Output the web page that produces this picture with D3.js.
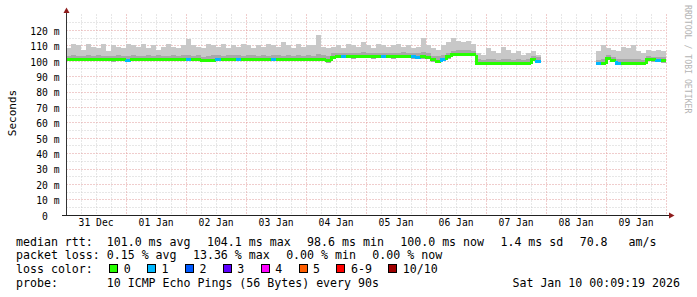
<!DOCTYPE html>
<html>
<head>
<meta charset="utf-8">
<script src="https://cdn.jsdelivr.net/npm/d3@7"></script>
<style>
	html, body { margin: 0; padding: 0; background: #fff; }
	svg { display: block; }
	text { font-family: 'DejaVu Sans Mono', monospace; white-space: pre; }
</style>
</head>
<body>
<script>
// 2 hour buckets, first one starts 31 Dec 00:00 UTC
const bucketStart = Date.UTC(2025, 11, 31, 0, 0, 0);
const bucketHours = 2;
const windowStart = Date.UTC(2025, 11, 31, 0, 9, 19);
const windowEnd = Date.UTC(2026, 0, 10, 0, 9, 19);

const median = [
	101.2, 101.0, 101.1, 101.0, 100.9, 101.0, 101.1, 101.0, 100.9, 100.8, 100.9, 101.0,
	100.6, 101.0, 101.1, 101.0, 101.0, 100.9, 101.0, 101.1, 101.0, 101.0, 100.9, 101.0,
	101.2, 101.0, 101.0, 100.6, 100.5, 100.7, 101.2, 101.3, 101.4, 101.2, 101.3, 101.2,
	101.1, 101.2, 101.3, 101.2, 101.0, 101.3, 101.2, 101.1, 101.0, 101.1, 101.2, 101.0,
	101.1, 101.0, 101.2, 101.0, 100.2, 102.6, 102.9, 103.0, 102.9, 102.8, 102.9, 103.0,
	102.9, 102.8, 102.9, 103.0, 102.9, 102.8, 102.9, 103.0, 102.9, 102.8, 102.7, 102.8,
	102.6, 100.8, 100.0, 101.2, 102.8, 104.2, 104.5, 104.6, 104.4, 104.3, 98.8, 98.7,
	98.8, 98.7, 98.6, 98.8, 98.7, 98.6, 98.7, 98.8, 98.7, 101.2, 100.0, null,
	null, null, null, null, null, null, null, null, null, null, 98.5, 98.8,
	101.8, 100.4, 98.7, 98.6, 98.7, 98.6, 98.7, 98.7, 101.2, 100.8, 100.5, 100.2
];

const smokeMax = [
	108, 111, 110, 107, 111, 109, 108, 111, 106, 110, 109, 108,
	111, 110, 109, 111, 108, 110, 107, 109, 111, 109, 108, 110,
	114, 110, 109, 108, 111, 110, 109, 111, 108, 110, 109, 111,
	110, 108, 110, 109, 111, 110, 109, 112, 110, 108, 111, 109,
	110, 110, 117, 109, 108, 109, 110, 108, 111, 110, 109, 112,
	110, 108, 111, 110, 109, 110, 111, 109, 110, 108, 109, 115,
	110, 108, 107, 110, 112, 115, 113, 112, 113, 111, 105, 104,
	108, 106, 105, 109, 107, 105, 106, 104, 105, 106, 104, null,
	null, null, null, null, null, null, null, null, null, null, 106, 110,
	108, 107, 106, 109, 108, 110, 106, 105, 107, 106, 107, 106
];

const smokeMid = [
	103.0, 103.4, 102.8, 103.2, 103.6, 102.9, 103.5, 102.8, 103.3, 103.0, 103.7, 103.1,
	102.8, 103.5, 103.0, 103.3, 103.8, 102.9, 103.4, 103.1, 102.8, 103.6, 103.0, 103.4,
	104.0, 103.1, 103.5, 102.7, 102.9, 103.4, 103.6, 103.2, 103.9, 103.5, 103.7, 103.3,
	103.4, 103.8, 103.2, 103.6, 103.3, 103.9, 103.5, 103.1, 103.7, 103.3, 103.6, 103.2,
	103.6, 103.3, 104.6, 103.4, 103.0, 104.7, 105.1, 104.9, 105.3, 104.8, 105.0, 105.4,
	104.9, 105.1, 105.3, 105.0, 104.8, 105.2, 105.0, 105.4, 104.9, 105.1, 104.7, 105.5,
	104.8, 103.3, 102.9, 103.5, 105.1, 106.5, 106.8, 107.0, 106.7, 106.5, 100.9, 100.6,
	101.2, 100.8, 100.6, 101.4, 100.9, 100.6, 101.0, 100.7, 100.8, 103.0, 102.1, null,
	null, null, null, null, null, null, null, null, null, null, 100.6, 101.2,
	103.8, 102.5, 100.8, 101.2, 100.9, 101.4, 100.8, 100.6, 102.9, 102.7, 102.5, 102.3
];

const smokeMin = [
	99.8, 99.6, 99.7, 99.6, 99.5, 99.6, 99.7, 99.6, 99.5, 99.4, 99.5, 99.6,
	99.0, 99.6, 99.7, 99.6, 99.6, 99.5, 99.6, 99.7, 99.6, 99.6, 99.5, 99.6,
	99.8, 99.6, 99.6, 99.2, 99.1, 99.3, 99.8, 99.9, 100.0, 99.8, 99.9, 99.8,
	99.7, 99.8, 99.9, 99.8, 99.6, 99.9, 99.8, 99.7, 99.6, 99.7, 99.8, 99.6,
	99.7, 99.6, 99.8, 99.6, 98.6, 101.0, 101.5, 101.6, 101.5, 101.4, 101.5, 101.6,
	101.5, 101.4, 101.5, 101.6, 101.5, 101.4, 101.5, 101.6, 101.5, 101.4, 101.3, 101.4,
	101.2, 99.4, 98.6, 99.8, 101.4, 102.8, 103.1, 103.2, 103.0, 102.9, 97.4, 97.3,
	97.4, 97.3, 97.2, 97.4, 97.3, 97.2, 97.3, 97.4, 97.3, 99.8, 98.6, null,
	null, null, null, null, null, null, null, null, null, null, 97.1, 97.4,
	100.4, 99.0, 97.3, 97.2, 97.3, 97.2, 97.3, 97.3, 99.8, 99.4, 99.1, 98.8
];

const lossCount = [
	0, 0, 0, 0, 0, 0, 0, 0, 0, 0, 0, 0,
	1, 0, 0, 0, 0, 0, 0, 0, 0, 0, 0, 0,
	1, 0, 0, 0, 0, 0, 1, 0, 0, 0, 1, 0,
	0, 0, 0, 0, 0, 1, 0, 0, 0, 0, 0, 0,
	0, 0, 0, 0, 0, 0, 0, 1, 0, 0, 0, 0,
	0, 0, 0, 1, 0, 0, 0, 0, 0, 1, 1, 0,
	0, 0, 0, 1, 0, 0, 0, 0, 0, 0, 0, 0,
	0, 0, 0, 0, 0, 0, 0, 0, 0, 0, 1, null,
	null, null, null, null, null, null, null, null, null, null, 1, 0,
	0, 0, 1, 0, 0, 0, 0, 0, 0, 0, 1, 0
];

const yTicks = [0, 10, 20, 30, 40, 50, 60, 70, 80, 90, 100, 110, 120];
const lossColors = ['#26ff00', '#00b8ff', '#0059ff', '#5e00ff', '#ff00fe', '#ff5e00', '#ff0000', '#a00000'];
const lossLabels = ['0', '1', '2', '3', '4', '5', '6-9', '10/10'];
const legendRtt = ['median rtt:  101.0 ms avg', '104.1 ms max', '98.6 ms min', '100.0 ms now', '1.4 ms sd', '70.8   am/s'];
const legendLoss = ['packet loss: 0.15 % avg', '13.36 % max', '0.00 % min', '0.00 % now'];
const probeText = 'probe:       10 ICMP Echo Pings (56 Bytes) every 90s';
const stampText = 'Sat Jan 10 00:09:19 2026';
const yTitle = 'Seconds';
const watermark = 'RRDTOOL / TOBI OETIKER';

const width = 697, height = 297;
const plotLeft = 66.5, plotRight = 666.5, plotTop = 14.5, plotBottom = 215.5;

let svg = d3.select('body').append('svg')
	.attr('width', width)
	.attr('height', height);

let x = d3.scaleUtc().domain([windowStart, windowEnd]).range([plotLeft - 0.5, plotRight - 0.5]);
let y = d3.scaleLinear().domain([0, 130]).range([plotBottom - 0.7, plotTop]);

svg.append('clipPath').attr('id', 'plot')
	.append('rect')
	.attr('x', plotLeft).attr('y', plotTop)
	.attr('width', plotRight - plotLeft).attr('height', plotBottom - plotTop);

// grid
let grid = svg.append('g');
let minorX = d3.utcHour.every(6).range(new Date(windowStart), new Date(windowEnd));
let majorX = d3.utcDay.range(new Date(windowStart), new Date(windowEnd + 1));
let crisp = v => Math.round(v) + 0.5;

grid.selectAll('line.vminor').data(minorX.filter(d => d.getUTCHours() !== 0))
	.enter().append('line')
	.attr('x1', d => crisp(x(d))).attr('x2', d => crisp(x(d)))
	.attr('y1', plotTop).attr('y2', plotBottom)
	.style('stroke', '#cfcfcf').style('stroke-dasharray', '1,2');

let hMinor = d3.range(5, 130, 10);
grid.selectAll('line.hminor').data(hMinor)
	.enter().append('line')
	.attr('x1', plotLeft).attr('x2', plotRight)
	.attr('y1', d => crisp(y(d))).attr('y2', d => crisp(y(d)))
	.style('stroke', '#cfcfcf').style('stroke-dasharray', '1,2');

grid.selectAll('line.vmajor').data(majorX)
	.enter().append('line')
	.attr('x1', d => crisp(x(d))).attr('x2', d => crisp(x(d)))
	.attr('y1', plotTop).attr('y2', plotBottom)
	.style('stroke', '#e09a9a').style('stroke-dasharray', '1,2');

grid.selectAll('line.hmajor').data(yTicks.slice(1))
	.enter().append('line')
	.attr('x1', plotLeft).attr('x2', plotRight)
	.attr('y1', d => crisp(y(d))).attr('y2', d => crisp(y(d)))
	.style('stroke', '#e09a9a').style('stroke-dasharray', '1,2');

// smoke + median
let buckets = median.map((m, i) => ({
	t0: bucketStart + i * bucketHours * 3600e3,
	t1: bucketStart + (i + 1) * bucketHours * 3600e3,
	median: m,
	prev: i > 0 ? median[i - 1] : null,
	hi: smokeMax[i],
	mid: smokeMid[i],
	lo: smokeMin[i],
	loss: lossCount[i]
})).filter(d => d.median != null);

let plot = svg.append('g').attr('clip-path', 'url(#plot)');

plot.append('g').selectAll('rect').data(buckets)
	.enter().append('rect')
	.attr('x', d => Math.round(x(d.t0)))
	.attr('width', d => Math.round(x(d.t1)) - Math.round(x(d.t0)))
	.attr('y', d => Math.round(y(d.hi)))
	.attr('height', d => Math.round(y(d.lo)) - Math.round(y(d.hi)))
	.attr('shape-rendering', 'crispEdges')
	.style('fill', '#c8c8c8');

plot.append('g').selectAll('rect').data(buckets)
	.enter().append('rect')
	.attr('x', d => Math.round(x(d.t0)))
	.attr('width', d => Math.round(x(d.t1)) - Math.round(x(d.t0)))
	.attr('y', d => Math.round(y(d.mid)))
	.attr('height', d => Math.round(y(d.lo)) - Math.round(y(d.mid)))
	.attr('shape-rendering', 'crispEdges')
	.style('fill', '#a8a8a8');

let lossIndex = n => n >= 10 ? 7 : n >= 6 ? 6 : n;
let ly = v => Math.round(y(v)) + 0.5;

plot.append('g').selectAll('path').data(buckets)
	.enter().append('path')
	.attr('d', d => {
		let x0 = Math.round(x(d.t0)), x1 = Math.round(x(d.t1));
		if (d.prev != null)
			return `M${x0},${ly(d.prev)}V${ly(d.median)}H${x1}`;
		return `M${x0},${ly(d.median)}H${x1}`;
	})
	.attr('shape-rendering', 'crispEdges')
	.style('fill', 'none')
	.style('stroke', d => lossColors[lossIndex(d.loss)])
	.style('stroke-width', 3);

// axes
let yAxis = svg.append('g')
	.attr('transform', `translate(${plotLeft},0)`)
	.call(d3.axisLeft(y).tickValues(yTicks).tickSize(0).tickPadding(7)
		.tickFormat(v => v ? v + ' m' : '0  '));
yAxis.select('.domain').remove();
yAxis.selectAll('text')
	.attr('dy', '0.45em')
	.style('font-family', "'DejaVu Sans Mono', monospace")
	.style('font-size', '9.7px')
	.style('fill', '#000');

let noons = d3.utcDay.range(d3.utcDay.floor(new Date(windowStart)), new Date(windowEnd))
	.map(d => d3.utcHour.offset(d, 12))
	.filter(d => d < windowEnd);
let xAxis = svg.append('g')
	.attr('transform', `translate(0,${plotBottom})`)
	.call(d3.axisBottom(x).tickValues(noons).tickSize(0).tickPadding(4)
		.tickFormat(d3.utcFormat('%d %b')));
xAxis.select('.domain').remove();
xAxis.selectAll('text')
	.attr('dy', '0.71em')
	.style('font-family', "'DejaVu Sans Mono', monospace")
	.style('font-size', '9.7px')
	.style('fill', '#000');

svg.append('line')
	.attr('x1', plotLeft).attr('x2', plotLeft)
	.attr('y1', plotBottom).attr('y2', 10)
	.style('stroke', '#333');
svg.append('line')
	.attr('x1', 62).attr('x2', 670)
	.attr('y1', plotBottom).attr('y2', plotBottom)
	.style('stroke', '#222');
svg.append('path')
	.attr('d', `M${plotLeft - 3},13L${plotLeft + 3},13L${plotLeft},7.5Z`)
	.style('fill', '#8e1c1c');
svg.append('path')
	.attr('d', `M669,${plotBottom - 3}L669,${plotBottom + 3}L674.5,${plotBottom}Z`)
	.style('fill', '#8e1c1c');

svg.append('text')
	.attr('transform', 'translate(15.5,113) rotate(-90)')
	.attr('text-anchor', 'middle')
	.style('font-size', '11px')
	.style('fill', '#000')
	.text(yTitle);

svg.append('text')
	.attr('transform', 'translate(685,5) rotate(90)')
	.style('font-size', '8.2px')
	.style('fill', '#b4b4b4')
	.text(watermark);

// legend
const legendGap = 16.4;
const legendFont = '11.6px';

function legendLine(parts, baseline) {
	let xPos = 16;
	for (let p of parts) {
		let t = svg.append('text')
			.attr('x', xPos).attr('y', baseline)
			.style('font-size', legendFont)
			.style('fill', '#000')
			.text(p);
		xPos += t.node().getComputedTextLength() + legendGap;
	}
}

legendLine(legendRtt, 245.5);
legendLine(legendLoss, 259.3);

let lc = svg.append('text')
	.attr('x', 16).attr('y', 273.1)
	.style('font-size', legendFont)
	.style('fill', '#000')
	.text('loss color:');
let lx = 16 + lc.node().getComputedTextLength() + legendGap;
lossLabels.forEach((label, i) => {
	svg.append('rect')
		.attr('x', Math.round(lx) + 0.5).attr('y', 264.5)
		.attr('width', 8).attr('height', 8)
		.style('fill', lossColors[i])
		.style('stroke', '#000');
	let t = svg.append('text')
		.attr('x', lx + 14.5).attr('y', 273.1)
		.style('font-size', legendFont)
		.style('fill', '#000')
		.text(label);
	lx += 14.5 + t.node().getComputedTextLength() + legendGap;
});

legendLine([probeText], 286.9);
svg.append('text')
	.attr('x', 680).attr('y', 286.9)
	.attr('text-anchor', 'end')
	.style('font-size', legendFont)
	.style('fill', '#000')
	.text(stampText);
</script>
</body>
</html>
